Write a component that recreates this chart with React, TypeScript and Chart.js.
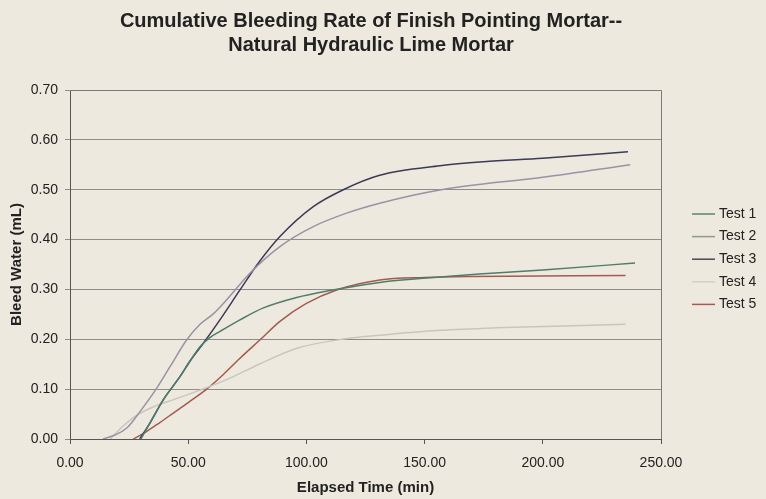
import React, { useEffect, useRef } from "react";
import { Chart, registerables } from "chart.js";

Chart.register(...registerables);

const TITLE_LINES = ["Cumulative Bleeding Rate of Finish Pointing Mortar--", "Natural Hydraulic Lime Mortar"];
const X_TITLE = "Elapsed Time (min)";
const Y_TITLE = "Bleed Water (mL)";
const SERIES_NAMES = ["Test 1", "Test 2", "Test 3", "Test 4", "Test 5"];
const SERIES_COLORS = ["#4E7D6A", "#9A92A6", "#3B3A58", "#C9C6BC", "#A35A50"];
const LEGEND_COLORS = ["#5E8272", "#8F9A92", "#4A4A52", "#D2D0C8", "#A35A50"];

const TEST1_X = [30, 33.8, 39.5, 46.5, 51, 55, 59, 63.5, 71.9, 81.8, 95.9, 110, 120, 131, 156.5, 173, 200, 239];
const TEST1_Y = [0, 0.032, 0.079, 0.125, 0.158, 0.185, 0.203, 0.216, 0.239, 0.263, 0.284, 0.298, 0.306, 0.314, 0.325, 0.331, 0.339, 0.353];

const TEST2_X = [14, 19, 24, 29.6, 36.7, 42.3, 49.4, 55, 60.6, 64.9, 76.8, 88.8, 102.9, 117, 131, 156.5, 200, 237];
const TEST2_Y = [0, 0.008, 0.022, 0.055, 0.102, 0.145, 0.199, 0.23, 0.251, 0.272, 0.336, 0.386, 0.426, 0.453, 0.473, 0.4996, 0.525, 0.55];

const TEST3_X = [29.5, 33.8, 39.5, 46.5, 51, 56.4, 64, 71.9, 79.7, 88.8, 102.9, 115.6, 131, 156.5, 175, 200, 236];
const TEST3_Y = [0, 0.032, 0.079, 0.125, 0.158, 0.192, 0.243, 0.299, 0.353, 0.406, 0.466, 0.5, 0.529, 0.548, 0.556, 0.563, 0.576];

const TEST4_X = [17, 22, 28, 36, 44.4, 55, 66.3, 80, 96, 115, 131, 156.5, 180, 235];
const TEST4_Y = [0, 0.024, 0.047, 0.066, 0.08, 0.098, 0.119, 0.15, 0.182, 0.2, 0.208, 0.218, 0.223, 0.23];

const TEST5_X = [26.8, 32.4, 38, 43.7, 50, 57.8, 65, 71.9, 80.4, 88.8, 100, 112.8, 131, 150, 170, 235];
const TEST5_Y = [0, 0.015, 0.033, 0.052, 0.073, 0.1, 0.13, 0.162, 0.199, 0.236, 0.272, 0.299, 0.319, 0.324, 0.326, 0.328];

const X_TICKS = [0, 50, 100, 150, 200, 250];
const Y_TICKS = [0, 0.1, 0.2, 0.3, 0.4, 0.5, 0.6, 0.7];

const SERIES_X = [TEST1_X, TEST2_X, TEST3_X, TEST4_X, TEST5_X];
const SERIES_Y = [TEST1_Y, TEST2_Y, TEST3_Y, TEST4_Y, TEST5_Y];

const FONT = "'Liberation Sans', Arial, sans-serif";
const BG = "#EEE9DE";

export default function App() {
  const ref = useRef<HTMLCanvasElement | null>(null);

  useEffect(() => {
    if (!ref.current) return;
    const decor = {
      id: "decor",
      beforeDraw(chart: any) {
        const c = chart.ctx;
        c.save();
        c.fillStyle = BG;
        c.fillRect(0, 0, chart.width, chart.height);
        c.restore();
      },
      afterDraw(chart: any) {
        const c = chart.ctx;
        const a = chart.chartArea;
        c.save();
        c.strokeStyle = "#7a7a7a";
        c.lineWidth = 1;
        c.beginPath();
        c.moveTo(a.left, a.top + 0.5);
        c.lineTo(a.right + 0.5, a.top + 0.5);
        c.lineTo(a.right + 0.5, a.bottom);
        c.stroke();
        c.fillStyle = "#222";
        c.textAlign = "center";
        c.textBaseline = "middle";
        c.font = `bold 20px ${FONT}`;
        c.fillText(TITLE_LINES[0], 371, 21);
        c.fillText(TITLE_LINES[1], 371, 45);
        c.font = `bold 15px ${FONT}`;
        c.fillText(X_TITLE, (a.left + a.right) / 2, 488);
        c.save();
        c.translate(17, (a.top + a.bottom) / 2);
        c.rotate(-Math.PI / 2);
        c.fillText(Y_TITLE, 0, 0);
        c.restore();
        c.font = `14px ${FONT}`;
        c.textAlign = "left";
        SERIES_NAMES.forEach((n, i) => {
          const y = 214 + i * 22.6;
          c.strokeStyle = LEGEND_COLORS[i];
          c.lineWidth = 1.5;
          c.beginPath();
          c.moveTo(692, y);
          c.lineTo(715, y);
          c.stroke();
          c.fillStyle = "#222";
          c.fillText(n, 719, y);
        });
        c.restore();
      },
    };

    const chart = new Chart(ref.current, {
      type: "line",
      data: {
        datasets: SERIES_NAMES.map((name, i) => ({
          label: name,
          data: SERIES_X[i].map((x, j) => ({ x, y: SERIES_Y[i][j] })),
          borderColor: SERIES_COLORS[i],
          borderWidth: 1.5,
          pointRadius: 0,
          fill: false,
          cubicInterpolationMode: "monotone" as const,
        })),
      },
      options: {
        animation: false,
        responsive: false,
        maintainAspectRatio: false,
        layout: { padding: { top: 90, right: 105, left: 0, bottom: 0 } },
        plugins: { legend: { display: false }, title: { display: false }, tooltip: { enabled: false } },
        scales: {
          x: {
            type: "linear",
            min: 0,
            max: 250,
            afterFit: (s: any) => { s.height = 60; },
            afterBuildTicks: (s: any) => { s.ticks = X_TICKS.map((v) => ({ value: v })); },
            ticks: {
              callback: (v: any) => Number(v).toFixed(2),
              font: { family: FONT, size: 14 },
              color: "#222",
              padding: 11,
              maxRotation: 0,
            },
            grid: { drawOnChartArea: false, drawTicks: true, tickLength: 5, color: "#555" },
            border: { color: "#555", width: 1 },
          },
          y: {
            type: "linear",
            min: 0,
            max: 0.7,
            afterFit: (s: any) => { s.width = 70; },
            afterBuildTicks: (s: any) => { s.ticks = Y_TICKS.map((v) => ({ value: v })); },
            ticks: {
              callback: (v: any) => Number(v).toFixed(2),
              font: { family: FONT, size: 14 },
              color: "#222",
              padding: 7,
            },
            grid: { drawOnChartArea: true, drawTicks: true, tickLength: 5, color: "rgba(110,110,110,0.75)" },
            border: { color: "#555", width: 1 },
          },
        },
      },
      plugins: [decor],
    });
    return () => chart.destroy();
  }, []);

  return (
    <div style={{ position: "fixed", left: 0, top: 0, width: 766, height: 499, background: BG }}>
      <canvas ref={ref} width={766} height={499} style={{ width: 766, height: 499, display: "block" }} />
    </div>
  );
}
